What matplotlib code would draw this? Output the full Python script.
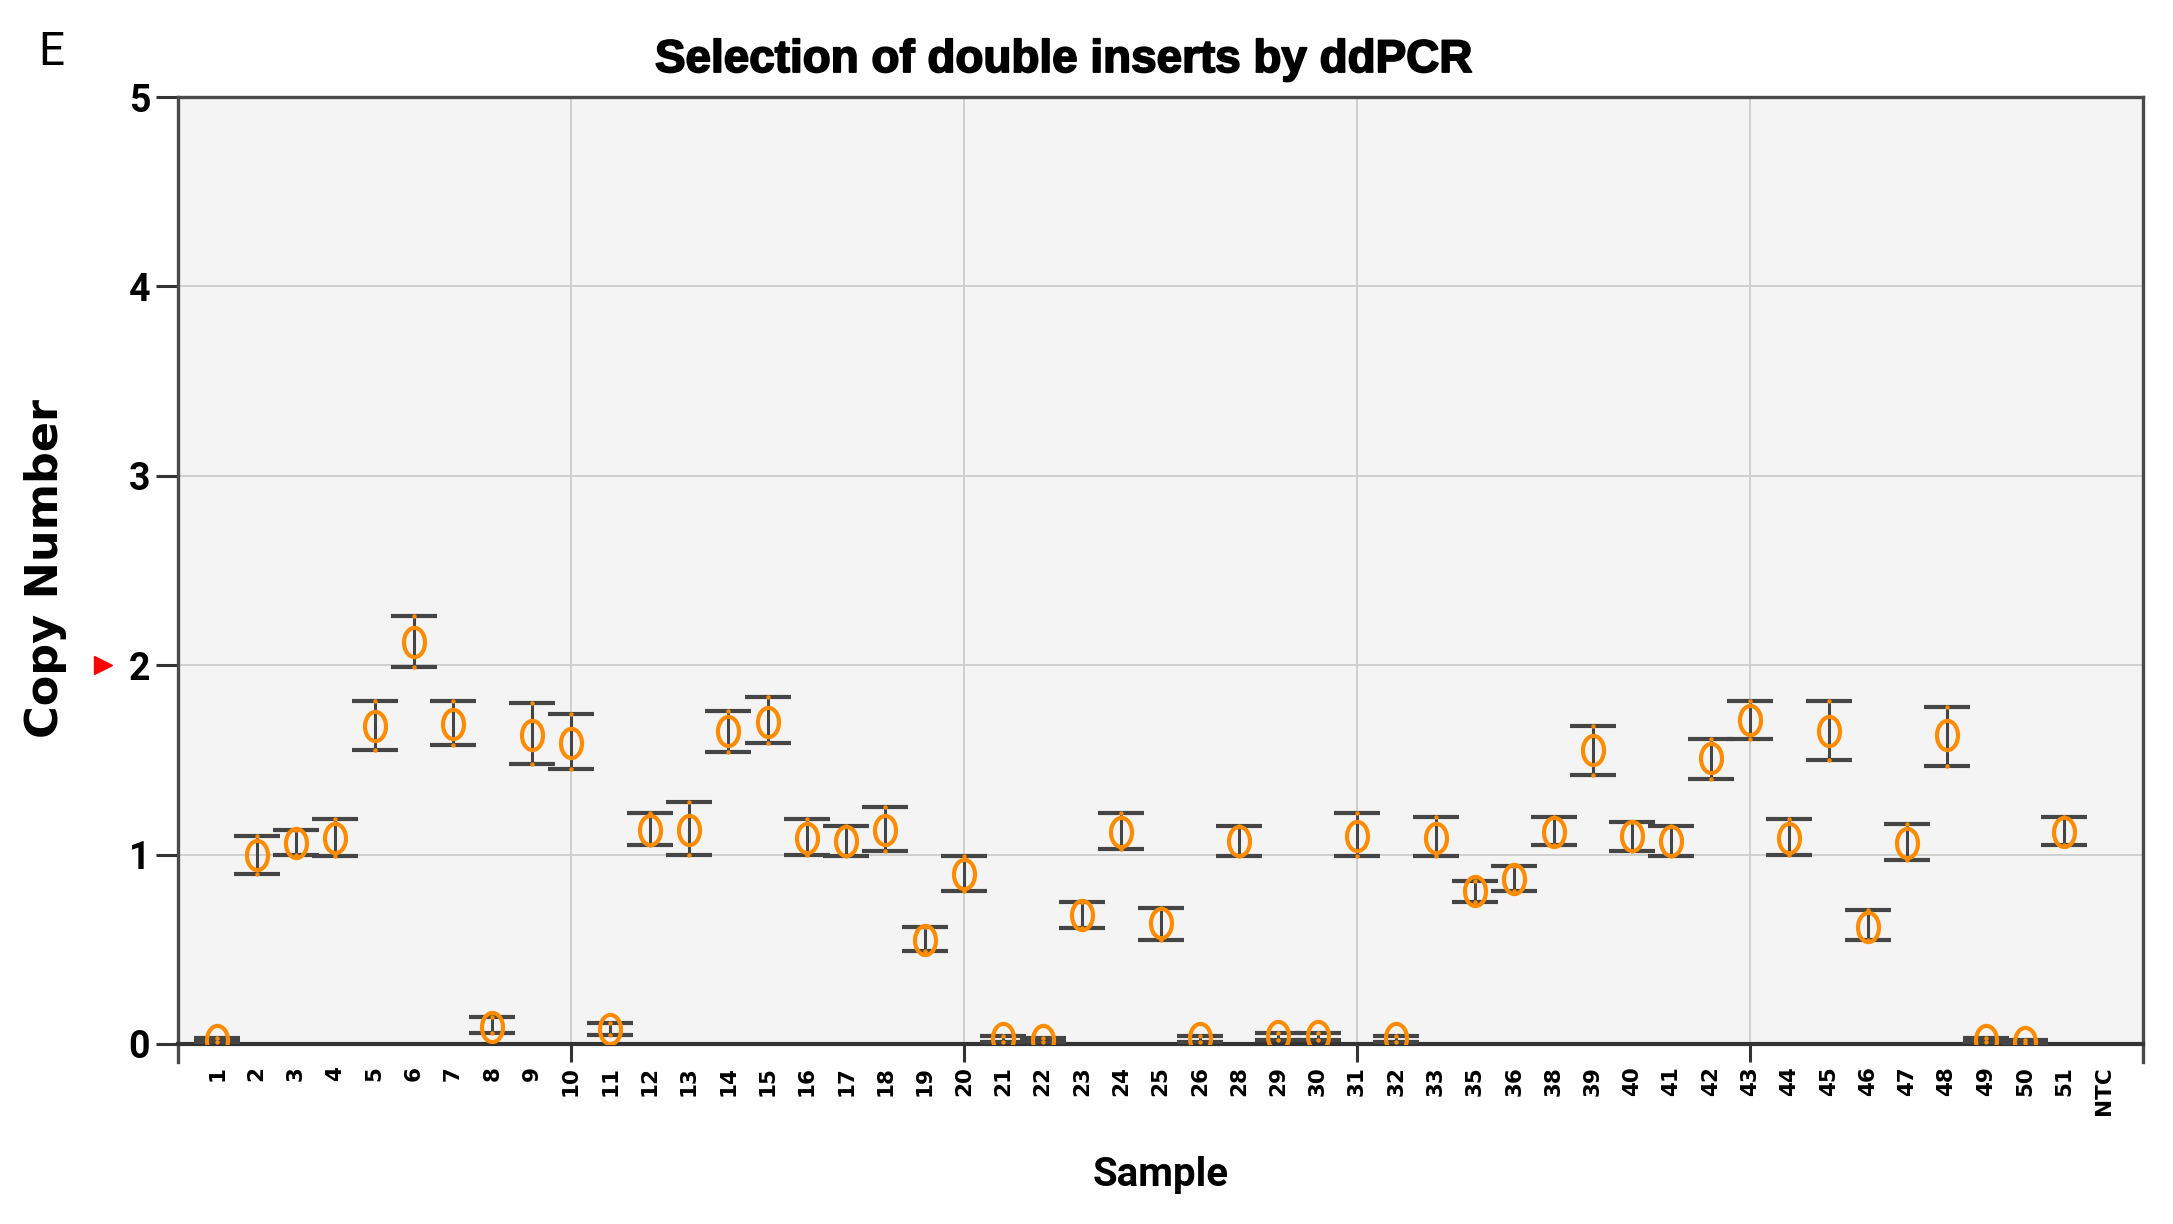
import numpy as np
import matplotlib
matplotlib.use("Agg")
import matplotlib.pyplot as plt
import matplotlib.patheffects as pe
from matplotlib.path import Path
from matplotlib.transforms import blended_transform_factory, Affine2D

# ---- data ----
samples = [str(i) for i in range(1, 27)] + ['28', '29', '30', '31', '32', '33', '35', '36'] + \
          [str(i) for i in range(38, 52)] + ['NTC']
copy_number = [0.02, 1.00, 1.06, 1.09, 1.68, 2.12, 1.69, 0.09, 1.63, 1.59,
               0.08, 1.13, 1.13, 1.65, 1.70, 1.09, 1.07, 1.13, 0.55, 0.90,
               0.03, 0.02, 0.68, 1.12, 0.64, 0.03, 1.07, 0.04, 0.04, 1.10,
               0.03, 1.09, 0.81, 0.87, 1.12, 1.55, 1.10, 1.07, 1.51, 1.71,
               1.09, 1.65, 0.62, 1.06, 1.63, 0.02, 0.01, 1.12, np.nan]
ci_low = [0.01, 0.90, 1.00, 0.99, 1.55, 1.99, 1.58, 0.06, 1.48, 1.45,
          0.05, 1.05, 1.00, 1.54, 1.59, 1.00, 0.99, 1.02, 0.49, 0.81,
          0.01, 0.01, 0.61, 1.03, 0.55, 0.01, 0.99, 0.02, 0.02, 0.99,
          0.01, 0.99, 0.75, 0.81, 1.05, 1.42, 1.02, 0.99, 1.40, 1.61,
          1.00, 1.50, 0.55, 0.97, 1.47, 0.01, 0.005, 1.05, np.nan]
ci_high = [0.03, 1.10, 1.13, 1.19, 1.81, 2.26, 1.81, 0.14, 1.80, 1.74,
           0.11, 1.22, 1.28, 1.76, 1.83, 1.19, 1.15, 1.25, 0.62, 0.99,
           0.04, 0.03, 0.75, 1.22, 0.72, 0.04, 1.15, 0.06, 0.06, 1.22,
           0.04, 1.20, 0.86, 0.94, 1.20, 1.68, 1.17, 1.15, 1.61, 1.81,
           1.19, 1.81, 0.71, 1.16, 1.78, 0.03, 0.02, 1.20, np.nan]
y_ticks = [0, 1, 2, 3, 4, 5]

# ---- figure ----
W, H = 2173, 1224
fig = plt.figure(figsize=(W / 100, H / 100), dpi=100)
ax = fig.add_axes([178 / W, 1 - 1044 / H, (2143 - 178) / W, (1044 - 97) / H])
ax.set_facecolor('#f4f4f4')

x = np.arange(1, len(samples) + 1)
y = np.array(copy_number, dtype=float)
lo = np.array(ci_low, dtype=float)
hi = np.array(ci_high, dtype=float)

ax.errorbar(x, y, yerr=[y - lo, hi - y], fmt='none', ecolor='#454545',
            elinewidth=2.2, capsize=16.5, capthick=3.0, zorder=3)
# small orange dots at the ends of the interval
ax.plot(np.concatenate([x, x]), np.concatenate([lo, hi]), linestyle='none',
        marker='o', markersize=3.2, color='#ff8c00', markeredgewidth=0, zorder=3.5)

ell = Path.unit_circle().transformed(Affine2D().scale(0.72, 1.0))
ax.plot(x, y, linestyle='none', marker=ell, markersize=21,
        markerfacecolor='none', markeredgecolor='#ff8c00', markeredgewidth=3.0,
        zorder=4)

ax.set_xlim(0, len(samples) + 1)
ax.set_ylim(0, 5)

major_idx = [10, 20, 30, 40]
minor_idx = [i for i in x if i not in major_idx]
ax.set_xticks(major_idx)
ax.set_xticklabels([samples[i - 1] for i in major_idx])
ax.set_xticks(minor_idx, minor=True)
ax.set_xticklabels([samples[i - 1] for i in minor_idx], minor=True)
for lab in ax.get_xticklabels(which='both'):
    lab.set_rotation(90)
    lab.set_fontfamily('DejaVu Sans')
    lab.set_fontweight('bold')
    lab.set_fontsize(15.5)
    lab.set_va('top')
    lab.set_ha('center')
ax.tick_params(axis='x', which='major', length=13, width=2.2, color='#333333', pad=3)
ax.tick_params(axis='x', which='minor', length=0, pad=16)

ax.set_yticks(y_ticks)
ax.set_yticklabels([str(v) for v in y_ticks], fontfamily='Roboto',
                   fontweight='bold', fontsize=27)
ax.tick_params(axis='y', length=16, width=2.2, color='#333333', pad=4)

ax.grid(True, which='major', color='#cfcfcf', linewidth=1.4)
ax.set_axisbelow(True)

for s in ax.spines.values():
    s.set_color('#4a4a4a')
    s.set_linewidth(2.4)
ax.spines['left'].set_bounds(-0.095, 5)
ax.spines['right'].set_bounds(-0.095, 5)
ax.spines['bottom'].set_linewidth(3.0)
ax.spines['bottom'].set_color('#333333')

# red arrow marker at y = 2
tr = blended_transform_factory(fig.transFigure, ax.transData)
ax.plot([103 / W], [2], marker='>', color='#ff0000', markersize=13,
        transform=tr, clip_on=False, linestyle='none')

# texts
fig.text(1064 / W, 1 - 60 / H, 'Selection of double inserts by ddPCR',
         ha='center', va='center', fontsize=33, fontweight='bold',
         fontfamily='Liberation Sans',
         path_effects=[pe.withStroke(linewidth=1.3, foreground='black')])
fig.text(51 / W, 1 - 52 / H, 'E', ha='center', va='center', fontsize=33,
         fontfamily='Roboto')
fig.text(46 / W, 1 - 568 / H, 'Copy Number', ha='center', va='center',
         rotation=90, fontsize=32, fontweight='bold', fontfamily='DejaVu Sans')
fig.text(1161 / W, 1 - 1175 / H, 'Sample', ha='center', va='center',
         fontsize=29, fontweight='bold', fontfamily='Roboto')

fig.savefig('out.png', dpi=100, facecolor='white')
